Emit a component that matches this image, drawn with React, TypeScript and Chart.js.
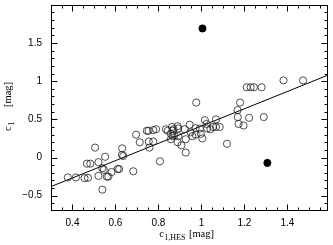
import React, { useEffect, useRef } from "react";
import { Chart, registerables } from "chart.js";

Chart.register(...registerables);

// open circles: c1,HES (x) vs c1 (y)
const openX = [
  0.378, 0.416, 0.456, 0.472, 0.467, 0.483, 0.505, 0.521, 0.521, 0.539,
  0.546, 0.539, 0.552, 0.560, 0.567, 0.582, 0.610, 0.617, 0.631, 0.630,
  0.636, 0.683, 0.696, 0.713, 0.746, 0.754, 0.776, 0.789, 0.758, 0.755,
  0.776, 0.807, 0.835, 0.843, 0.858, 0.866, 0.870, 0.863, 0.889, 0.892,
  0.866, 0.874, 0.858, 0.889, 0.893, 0.907, 0.927, 0.927, 0.945, 0.922,
  0.950, 0.958, 0.973, 0.993, 0.973, 0.997, 1.004, 0.976, 1.016, 1.024,
  1.027, 1.042, 1.054, 1.068, 1.085, 1.068, 1.119, 1.168, 1.169, 1.180,
  1.173, 1.196, 1.222, 1.290, 1.211, 1.229, 1.244, 1.280, 1.382, 1.473,
];
const openY = [
  -0.26, -0.26, -0.27, -0.265, -0.08, -0.08, 0.13, -0.06, -0.24, -0.14,
  -0.16, -0.42, 0.01, -0.25, -0.25, -0.19, -0.15, -0.15, 0.12, 0.035,
  0.02, -0.18, 0.30, 0.20, 0.35, 0.35, 0.36, 0.37, 0.13, 0.21,
  0.21, -0.05, 0.37, 0.35, 0.31, 0.35, 0.37, 0.40, 0.41, 0.38,
  0.28, 0.295, 0.24, 0.20, 0.28, 0.16, 0.065, 0.24, 0.43, 0.37,
  0.33, 0.28, 0.385, 0.38, 0.30, 0.31, 0.25, 0.72, 0.49, 0.44,
  0.38, 0.37, 0.40, 0.40, 0.40, 0.50, 0.18, 0.62, 0.53, 0.72,
  0.44, 0.42, 0.52, 0.53, 0.92, 0.92, 0.92, 0.92, 1.01, 1.01,
];
// filled circles
const filledX = [1.005, 1.307];
const filledY = [1.69, -0.07];
// fitted line end points
const fitX = [0.3, 1.59];
const fitY = [-0.38, 1.08];

const xTickValues = [0.4, 0.6, 0.8, 1, 1.2, 1.4];
const yTickValues = [-0.5, 0, 0.5, 1, 1.5];
const xRange = [0.3, 1.59];
const yRange = [-0.7, 2.0];

const fmt = (v: number) => (v < 0 ? "\u2212" + String(-v) : String(v));

const SANS = "'Liberation Sans', Arial, Helvetica, sans-serif";
const SERIF = "'Liberation Serif', 'Times New Roman', Times, serif";

const framePlugin = {
  id: "frameTicks",
  afterDraw(chart: any) {
    const { ctx, chartArea: a, scales } = chart;
    const xs = scales.x;
    const ys = scales.y;
    ctx.save();
    ctx.strokeStyle = "#000";
    ctx.lineWidth = 1;
    const L = Math.round(a.left) + 0.5;
    const R = Math.round(a.right) - 0.5;
    const T = Math.round(a.top) + 0.5;
    const B = Math.round(a.bottom) - 0.5;
    ctx.strokeRect(L, T, R - L, B - T);

    ctx.beginPath();
    const kx0 = Math.ceil(xRange[0] / 0.05 - 1e-6);
    const kx1 = Math.floor(xRange[1] / 0.05 + 1e-6);
    for (let k = kx0; k <= kx1; k++) {
      const v = k * 0.05;
      const major = k % 4 === 0;
      const len = major ? 6 : 3;
      const px = Math.round(xs.getPixelForValue(v)) + 0.5;
      if (px <= L + 1 || px >= R - 1) continue;
      ctx.moveTo(px, B);
      ctx.lineTo(px, B - len);
      ctx.moveTo(px, T);
      ctx.lineTo(px, T + len);
    }
    const ky0 = Math.ceil(yRange[0] / 0.1 - 1e-6);
    const ky1 = Math.floor(yRange[1] / 0.1 + 1e-6);
    for (let k = ky0; k <= ky1; k++) {
      const v = k * 0.1;
      const major = k % 5 === 0;
      const len = major ? 6 : 3;
      const py = Math.round(ys.getPixelForValue(v)) + 0.5;
      if (py <= T + 1 || py >= B - 1) continue;
      ctx.moveTo(L, py);
      ctx.lineTo(L + len, py);
      ctx.moveTo(R, py);
      ctx.lineTo(R - len, py);
    }
    ctx.stroke();

    // tick labels
    ctx.fillStyle = "#000";
    ctx.font = "10px " + SANS;
    ctx.textAlign = "center";
    ctx.textBaseline = "middle";
    for (const v of xTickValues) {
      ctx.fillText(fmt(v), xs.getPixelForValue(v), a.bottom + 12);
    }
    ctx.textAlign = "right";
    for (const v of yTickValues) {
      ctx.fillText(fmt(v), a.left - 9, ys.getPixelForValue(v));
    }

    // x title: c_{1,HES} [mag]
    ctx.textAlign = "left";
    ctx.textBaseline = "alphabetic";
    const big = "10.5px " + SERIF;
    const small = "8px " + SERIF;
    ctx.font = big;
    const wc = ctx.measureText("c").width;
    const wm = ctx.measureText("[mag]").width;
    ctx.font = small;
    const ws = ctx.measureText("1,HES").width;
    const gap = 3.5;
    const total = wc + 0.5 + ws + gap + wm;
    let sx = (a.left + a.right) / 2 - 3 - total / 2;
    const by = 237;
    ctx.font = big;
    ctx.fillText("c", sx, by);
    sx += wc + 0.5;
    ctx.font = small;
    ctx.fillText("1,HES", sx, by + 3);
    sx += ws + gap;
    ctx.font = big;
    ctx.fillText("[mag]", sx, by);

    // y title: c_1 [mag], rotated
    const cy = (a.top + a.bottom) / 2;
    ctx.save();
    ctx.translate(11, cy);
    ctx.rotate(-Math.PI / 2);
    ctx.font = big;
    ctx.textAlign = "left";
    ctx.fillText("c", -23, 0);
    ctx.font = small;
    ctx.fillText("1", -23 + wc + 0.5, 3);
    ctx.font = big;
    ctx.textAlign = "right";
    ctx.fillText("[mag]", 26, 0);
    ctx.restore();

    ctx.restore();
  },
};

export default function App() {
  const ref = useRef<HTMLCanvasElement | null>(null);

  useEffect(() => {
    if (!ref.current) return;
    const openData = openX.map((x, i) => ({ x, y: openY[i] }));
    const filledData = filledX.map((x, i) => ({ x, y: filledY[i] }));
    const fitData = fitX.map((x, i) => ({ x, y: fitY[i] }));
    const chart = new Chart(ref.current, {
      type: "scatter",
      data: {
        datasets: [
          {
            type: "line",
            data: fitData,
            borderColor: "#000",
            borderWidth: 1,
            pointRadius: 0,
            fill: false,
            order: 3,
          } as any,
          {
            data: openData,
            pointStyle: "circle",
            pointRadius: 3.6,
            pointBorderWidth: 0.8,
            borderColor: "#222",
            backgroundColor: "rgba(0,0,0,0)",
            order: 2,
          } as any,
          {
            data: filledData,
            pointStyle: "circle",
            pointRadius: 3.6,
            pointBorderWidth: 0.8,
            borderColor: "#000",
            backgroundColor: "#000",
            order: 1,
          } as any,
        ],
      },
      options: {
        animation: false,
        responsive: true,
        maintainAspectRatio: false,
        layout: { padding: { top: 1, right: 1, left: 0, bottom: 0 } },
        plugins: {
          legend: { display: false },
          tooltip: { enabled: false },
        },
        scales: {
          x: {
            type: "linear",
            min: xRange[0],
            max: xRange[1],
            ticks: { display: false },
            grid: { display: false },
            border: { display: false },
            afterFit: (s: any) => {
              s.height = 34;
            },
          },
          y: {
            type: "linear",
            min: yRange[0],
            max: yRange[1],
            ticks: { display: false },
            grid: { display: false },
            border: { display: false },
            afterFit: (s: any) => {
              s.width = 51;
            },
          },
        },
      } as any,
      plugins: [framePlugin],
    });
    return () => chart.destroy();
  }, []);

  return (
    <div
      style={{
        position: "absolute",
        left: 0,
        top: 0,
        width: 333,
        height: 245,
        background: "#fff",
      }}
    >
      <canvas ref={ref} />
    </div>
  );
}
